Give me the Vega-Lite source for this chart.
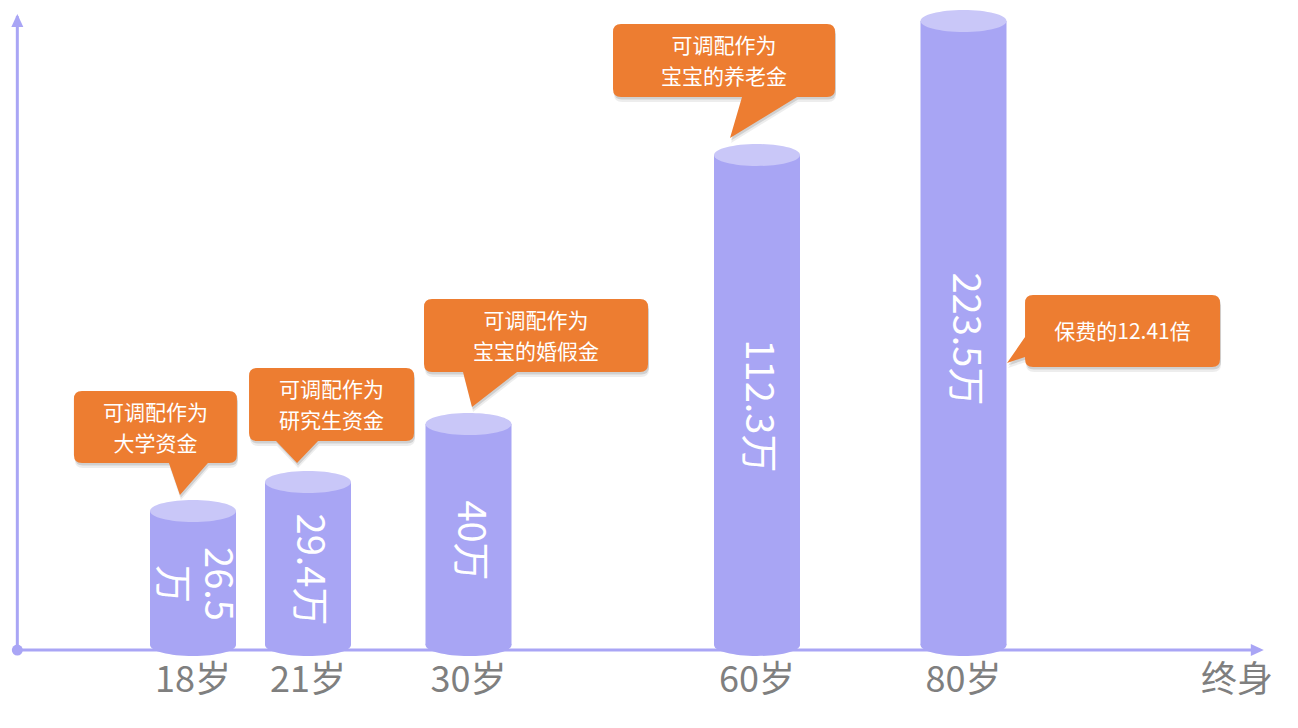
{
  "$schema": "https://vega.github.io/schema/vega-lite/v6.json",
  "width": 1298,
  "height": 728,
  "padding": 0,
  "autosize": {"type": "none"},
  "background": "#ffffff",
  "config": {"view": {"stroke": null}, "axis": {"disable": true}, "font": "Noto Sans CJK SC"},
  "datasets": {
    "bars": [
      {"age": 18, "value": 26.5, "label": "26.5\n万"},
      {"age": 21, "value": 29.4, "label": "29.4万"},
      {"age": 30, "value": 40, "label": "40万"},
      {"age": 60, "value": 112.3, "label": "112.3万"},
      {"age": 80, "value": 223.5, "label": "223.5万"}
    ],
    "ticks": [
      {"age": 18, "text": "18岁"},
      {"age": 21, "text": "21岁"},
      {"age": 30, "text": "30岁"},
      {"age": 60, "text": "60岁"},
      {"age": 80, "text": "80岁"},
      {"age": 100, "text": "终身"}
    ],
    "notes": [
      {"kind": "n18", "noteX": 14.15, "noteY": 39.45, "text": "可调配作为\n大学资金"},
      {"kind": "n21", "noteX": 22.32, "noteY": 45.24, "text": "可调配作为\n研究生资金"},
      {"kind": "n30", "noteX": 37.02, "noteY": 63.79, "text": "可调配作为\n宝宝的婚假金"},
      {"kind": "n60", "noteX": 56.57, "noteY": 190.72, "text": "可调配作为\n宝宝的养老金"},
      {"kind": "n80", "noteX": 91.63, "noteY": 65.0, "text": "保费的12.41倍"}
    ]
  },
  "layer": [
    {
      "data": {"values": [{}]},
      "mark": {"type": "rule", "color": "#a9a5f5", "strokeWidth": 3},
      "encoding": {
        "x": {"datum": 0, "type": "quantitative", "scale": {"type": "linear", "domain": [0, 18, 21, 30, 60, 80, 100, 110], "range": [13, 193, 308, 468.5, 757, 963.5, 1237, 1265], "nice": false, "zero": false}, "axis": null},
        "x2": {"datum": 108},
        "y": {"datum": -1, "type": "quantitative", "scale": {"type": "linear", "domain": [0, 26.5, 29.4, 40, 112.3, 223.5, 230], "range": [645, 511, 482, 424, 155, 21, 14], "nice": false, "zero": false}, "axis": null}
      }
    },
    {
      "data": {"values": [{}]},
      "mark": {"type": "rule", "color": "#a9a5f5", "strokeWidth": 3},
      "encoding": {
        "x": {"datum": 0, "type": "quantitative"},
        "y": {"datum": -1, "type": "quantitative"},
        "y2": {"datum": 228}
      }
    },
    {
      "data": {"values": [{}]},
      "mark": {"type": "point", "shape": "circle", "filled": true, "fill": "#a9a5f5", "opacity": 1, "size": 120, "strokeWidth": 0},
      "encoding": {
        "x": {"datum": 0, "type": "quantitative"},
        "y": {"datum": -1, "type": "quantitative"}
      }
    },
    {
      "data": {"values": [{}]},
      "mark": {"type": "point", "shape": "M0,0L6,13L-6,13Z", "filled": true, "fill": "#a9a5f5", "opacity": 1, "size": 4, "strokeWidth": 0},
      "encoding": {
        "x": {"datum": 0, "type": "quantitative"},
        "y": {"datum": 230, "type": "quantitative"}
      }
    },
    {
      "data": {"values": [{}]},
      "mark": {"type": "point", "shape": "M0,0L-13,-6L-13,6Z", "filled": true, "fill": "#a9a5f5", "opacity": 1, "size": 4, "strokeWidth": 0},
      "encoding": {
        "x": {"datum": 110, "type": "quantitative"},
        "y": {"datum": -1, "type": "quantitative"}
      }
    },
    {
      "data": {"name": "bars"},
      "mark": {"type": "point", "shape": "M-43,0C-43,-6.07,-23.75,-11,0,-11C23.75,-11,43,-6.07,43,0C43,6.07,23.75,11,0,11C-23.75,11,-43,6.07,-43,0Z", "filled": true, "fill": "#a8a5f4", "opacity": 1, "size": 4, "strokeWidth": 0},
      "encoding": {
        "x": {"field": "age", "type": "quantitative"},
        "y": {"datum": 0, "type": "quantitative"}
      }
    },
    {
      "data": {"name": "bars"},
      "mark": {"type": "bar", "orient": "vertical", "width": 86, "fill": "#a8a5f4"},
      "encoding": {
        "x": {"field": "age", "type": "quantitative"},
        "y": {"field": "value", "type": "quantitative"},
        "y2": {"datum": 0}
      }
    },
    {
      "data": {"name": "bars"},
      "mark": {"type": "point", "shape": "M-43,0C-43,-6.07,-23.75,-11,0,-11C23.75,-11,43,-6.07,43,0C43,6.07,23.75,11,0,11C-23.75,11,-43,6.07,-43,0Z", "filled": true, "fill": "#c9c7f8", "opacity": 1, "size": 4, "strokeWidth": 0},
      "encoding": {
        "x": {"field": "age", "type": "quantitative"},
        "y": {"field": "value", "type": "quantitative"}
      }
    },
    {
      "data": {"name": "bars"},
      "mark": {"type": "text", "angle": 90, "align": "center", "baseline": "middle", "fontSize": 38, "lineHeight": 45, "lineBreak": "\n", "fill": "#ffffff",
        "y": {"expr": "(scale('y', datum.value) + scale('y', 0)) / 2 + 6"},
        "dy": {"expr": "-(split(datum.label, '\\n').length - 1) * 22.5"}},
      "encoding": {
        "x": {"field": "age", "type": "quantitative"},
        "text": {"field": "label", "type": "nominal"}
      }
    },
    {
      "data": {"name": "ticks"},
      "mark": {"type": "text", "align": "center", "baseline": "middle", "fontSize": 36, "fill": "#7f7f7f", "dy": 36},
      "encoding": {
        "x": {"field": "age", "type": "quantitative"},
        "y": {"datum": 0, "type": "quantitative"},
        "text": {"field": "text", "type": "nominal"}
      }
    },
    {
      "data": {"name": "notes"},
      "mark": {"type": "point", "filled": true, "fill": "#000000", "opacity": 0.07, "size": 4, "strokeWidth": 0, "xOffset": 1, "yOffset": 5},
      "encoding": {
        "x": {"field": "noteX", "type": "quantitative"},
        "y": {"field": "noteY", "type": "quantitative"},
        "shape": {"field": "kind", "type": "nominal", "legend": null, "scale": {"domain": ["n18", "n21", "n30", "n60", "n80"], "range": [
          "M-73.5,-36H73.5Q81.5,-36,81.5,-28V28Q81.5,36,73.5,36H52.5L24.5,68L13.5,36H-73.5Q-81.5,36,-81.5,28V-28Q-81.5,-36,-73.5,-36Z",
          "M-74.5,-36.5H74.5Q82.5,-36.5,82.5,-28.5V28.5Q82.5,36.5,74.5,36.5H-13.5L-34.5,58.5L-55.5,36.5H-74.5Q-82.5,36.5,-82.5,28.5V-28.5Q-82.5,-36.5,-74.5,-36.5Z",
          "M-104,-36.5H104Q112,-36.5,112,-28.5V28.5Q112,36.5,104,36.5H-19L-64,71.5L-73,36.5H-104Q-112,36.5,-112,28.5V-28.5Q-112,-36.5,-104,-36.5Z",
          "M-103,-36.5H103Q111,-36.5,111,-28.5V28.5Q111,36.5,103,36.5H73L6,77.5L18,36.5H-103Q-111,36.5,-111,28.5V-28.5Q-111,-36.5,-103,-36.5Z",
          "M-89.5,-36H89.5Q97.5,-36,97.5,-28V28Q97.5,36,89.5,36H-89.5Q-97.5,36,-97.5,28V26L-115.5,32L-97.5,6V-28Q-97.5,-36,-89.5,-36Z"
        ]}}
      }
    },
    {
      "data": {"name": "notes"},
      "mark": {"type": "point", "filled": true, "fill": "#000000", "opacity": 0.12, "size": 4, "strokeWidth": 0, "xOffset": 1, "yOffset": 2.5},
      "encoding": {
        "x": {"field": "noteX", "type": "quantitative"},
        "y": {"field": "noteY", "type": "quantitative"},
        "shape": {"field": "kind", "type": "nominal", "legend": null}
      }
    },
    {
      "data": {"name": "notes"},
      "mark": {"type": "point", "filled": true, "fill": "#ed7d31", "opacity": 1, "size": 4, "strokeWidth": 0},
      "encoding": {
        "x": {"field": "noteX", "type": "quantitative"},
        "y": {"field": "noteY", "type": "quantitative"},
        "shape": {"field": "kind", "type": "nominal", "legend": null}
      }
    },
    {
      "data": {"name": "notes"},
      "mark": {"type": "text", "align": "center", "baseline": "middle", "fontSize": 21, "lineHeight": 31, "lineBreak": "\n", "fill": "#ffffff",
        "dy": {"expr": "2 - (split(datum.text, '\\n').length - 1) * 15.5"}},
      "encoding": {
        "x": {"field": "noteX", "type": "quantitative"},
        "y": {"field": "noteY", "type": "quantitative"},
        "text": {"field": "text", "type": "nominal"}
      }
    }
  ]
}
